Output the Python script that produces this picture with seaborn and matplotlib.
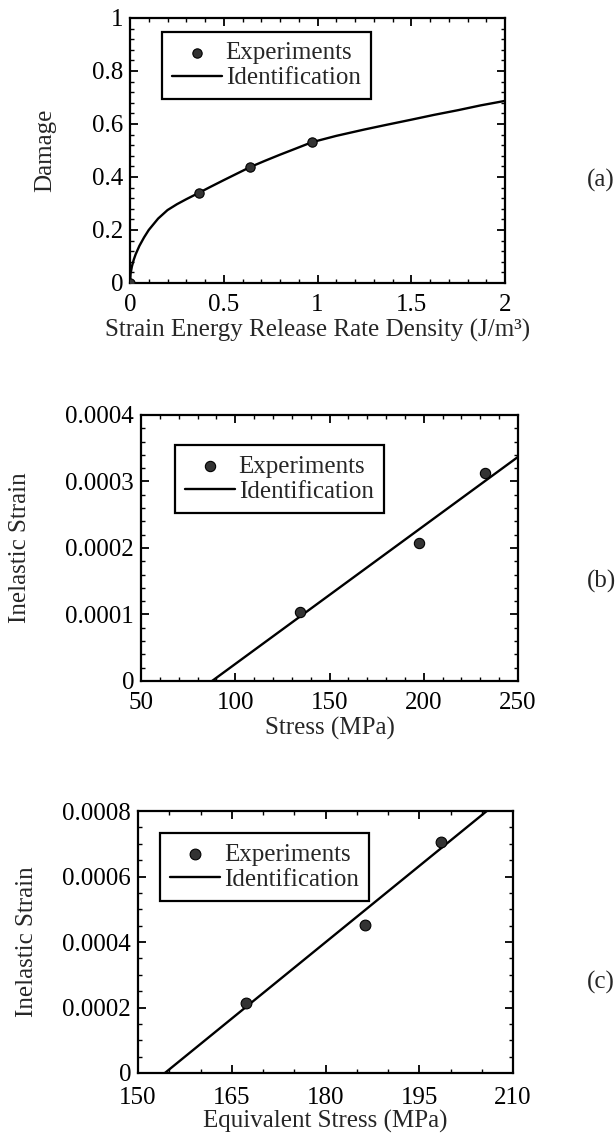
import matplotlib
matplotlib.use('Agg')
import matplotlib.pyplot as plt
from matplotlib.ticker import MultipleLocator, AutoMinorLocator, FuncFormatter
import seaborn as sns

# ---------- data ----------
# (a) damage vs strain energy release rate density
a_exp_x = [0.0, 0.37, 0.64, 0.97]
a_exp_y = [0.0, 0.341, 0.437, 0.531]
a_fit_x = [0.0, 0.003, 0.01, 0.02, 0.03, 0.05, 0.075, 0.1, 0.15, 0.2, 0.25,
           0.3, 0.37, 0.43, 0.5, 0.56, 0.64, 0.72, 0.8, 0.88, 0.97, 1.1,
           1.25, 1.37, 1.5, 1.62, 1.75, 1.87, 2.0]
a_fit_y = [0.0, 0.035, 0.062, 0.088, 0.108, 0.14, 0.172, 0.2, 0.243, 0.275,
           0.297, 0.316, 0.341, 0.363, 0.388, 0.409, 0.437, 0.461, 0.484,
           0.506, 0.531, 0.555, 0.579, 0.597, 0.616, 0.634, 0.652, 0.67, 0.687]

# (b) inelastic strain vs stress
b_exp_x = [134.3, 197.5, 232.5]
b_exp_y = [0.000104, 0.000207, 0.000313]
b_fit_x = [87.7, 250.0]
b_fit_y = [0.0, 0.000337]

# (c) inelastic strain vs equivalent stress
c_exp_x = [167.3, 186.3, 198.5]
c_exp_y = [0.000214, 0.000452, 0.000705]
c_fit_x = [154.3, 205.8]
c_fit_y = [0.0, 0.0008]

sns.set_theme(style='ticks')
plt.rcParams['font.family'] = ['Liberation Serif', 'DejaVu Serif']
FS = 18

fig = plt.figure(figsize=(6.15, 11.41), dpi=100)


def style_axes(ax, xmaj, xminor, ymaj, yminor, xpad=8):
    ax.xaxis.set_major_locator(MultipleLocator(xmaj))
    ax.yaxis.set_major_locator(MultipleLocator(ymaj))
    ax.xaxis.set_minor_locator(AutoMinorLocator(xminor))
    ax.yaxis.set_minor_locator(AutoMinorLocator(yminor))
    fmt = FuncFormatter(lambda v, p: '%g' % round(v, 6))
    ax.xaxis.set_major_formatter(fmt)
    ax.yaxis.set_major_formatter(fmt)
    ax.tick_params(which='both', direction='in', top=True, right=True,
                   color='black', labelsize=FS, labelcolor='black')
    ax.tick_params(which='major', length=6, width=1.3)
    ax.tick_params(axis='x', which='major', pad=xpad)
    ax.tick_params(axis='y', which='major', pad=5)
    ax.tick_params(which='minor', length=3, width=1.0)
    for s in ax.spines.values():
        s.set_linewidth(1.6)
        s.set_color('black')


def draw_panel(ax, ex, ey, fx, fy, leg_anchor, msize):
    sns.lineplot(x=fx, y=fy, ax=ax, color='black', lw=1.7,
                 label='Identification', zorder=2)
    sns.scatterplot(x=ex, y=ey, ax=ax, color='#333333', edgecolor='black',
                    linewidth=0.8, s=msize, label='Experiments', zorder=3)
    h, l = ax.get_legend_handles_labels()
    leg = ax.legend([h[1], h[0]], [l[1], l[0]], loc='upper left',
                    bbox_to_anchor=leg_anchor, borderaxespad=0,
                    frameon=True, fancybox=False, framealpha=1,
                    edgecolor='black', fontsize=FS, handlelength=2.0,
                    handletextpad=0.15, borderpad=0.4, labelspacing=0.1)
    leg.get_frame().set_linewidth(1.6)


# ---------- (a) ----------
ax1 = fig.add_axes([0.2114, 0.7520, 0.6098, 0.2323])
draw_panel(ax1, a_exp_x, a_exp_y, a_fit_x, a_fit_y, (0.085, 0.947), 45)
ax1.set_xlim(0, 2)
ax1.set_ylim(0, 1)
style_axes(ax1, 0.5, 5, 0.2, 5)
ax1.set_xlabel('Strain Energy Release Rate Density (J/m³)', fontsize=FS)
ax1.set_ylabel('Damage', fontsize=FS)
ax1.xaxis.label.set_va('center')
ax1.yaxis.label.set_va('center')
ax1.xaxis.set_label_coords(0.5, -0.18)
ax1.yaxis.set_label_coords(-0.227, 0.5)

# ---------- (b) ----------
ax2 = fig.add_axes([0.2293, 0.4032, 0.6130, 0.2331])
draw_panel(ax2, b_exp_x, b_exp_y, b_fit_x, b_fit_y, (0.09, 0.887), 55)
ax2.set_xlim(50, 250)
ax2.set_ylim(0, 0.0004)
style_axes(ax2, 50, 5, 0.0001, 5)
ax2.set_xlabel('Stress (MPa)', fontsize=FS)
ax2.set_ylabel('Inelastic Strain', fontsize=FS)
ax2.xaxis.label.set_va('center')
ax2.yaxis.label.set_va('center')
ax2.xaxis.set_label_coords(0.5, -0.177)
ax2.yaxis.set_label_coords(-0.321, 0.5)

# ---------- (c) ----------
ax3 = fig.add_axes([0.2244, 0.0596, 0.6098, 0.2296])
draw_panel(ax3, c_exp_x, c_exp_y, c_fit_x, c_fit_y, (0.059, 0.916), 60)
ax3.set_xlim(150, 210)
ax3.set_ylim(0, 0.0008)
style_axes(ax3, 15, 3, 0.0002, 4, xpad=10)
ax3.set_xlabel('Equivalent Stress (MPa)', fontsize=FS)
ax3.set_ylabel('Inelastic Strain', fontsize=FS)
ax3.xaxis.label.set_va('center')
ax3.yaxis.label.set_va('center')
ax3.xaxis.set_label_coords(0.5, -0.185)
ax3.yaxis.set_label_coords(-0.296, 0.5)

# panel tags
fig.text(601 / 615, 1 - 180 / 1141, '(a)', ha='center', va='center', fontsize=FS)
fig.text(601 / 615, 1 - 581 / 1141, '(b)', ha='center', va='center', fontsize=FS)
fig.text(601 / 615, 1 - 982 / 1141, '(c)', ha='center', va='center', fontsize=FS)

fig.savefig('out.png', dpi=100, facecolor='white')
